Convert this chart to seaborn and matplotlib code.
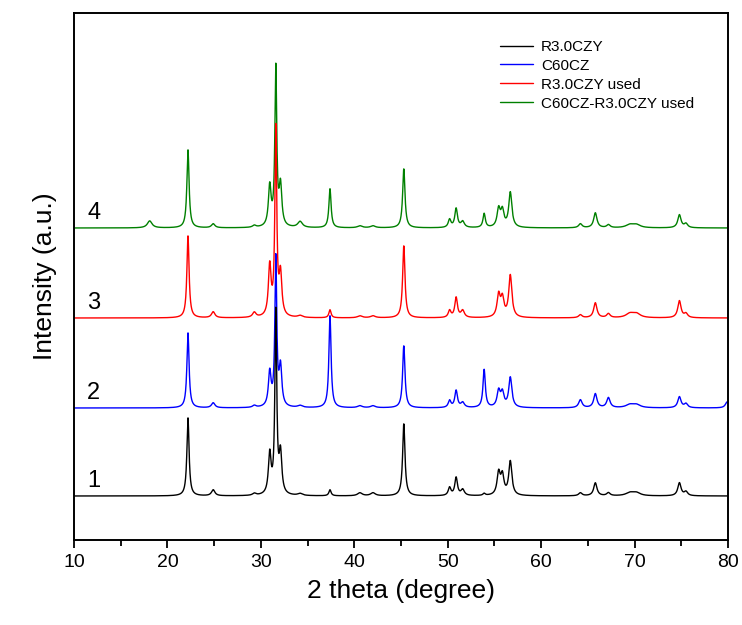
import numpy as np
import pandas as pd
import matplotlib
matplotlib.use("Agg")
import matplotlib.pyplot as plt
import seaborn as sns

# Peak list (2 theta in degrees, half width in degrees)
peak_pos = [18.1, 22.2, 24.9, 29.3, 30.95, 31.6, 32.1, 34.2, 37.4, 40.6, 42.0, 45.3,
            50.2, 50.9, 51.6, 53.9, 55.45, 55.85, 56.7, 64.2, 65.8, 67.2, 69.5, 70.2,
            74.8, 75.5, 79.9]
peak_hw = [0.3, 0.14, 0.22, 0.22, 0.17, 0.12, 0.17, 0.3, 0.14, 0.3, 0.3, 0.15,
           0.17, 0.17, 0.22, 0.15, 0.2, 0.2, 0.2, 0.22, 0.21, 0.22, 0.5, 0.5,
           0.21, 0.22, 0.22]

# Peak heights (a.u.) for each sample, same order as peak_pos
amp_r30czy = [0, 78, 6, 2, 40, 182, 40, 2, 6, 3, 3, 72,
              8, 18, 6, 2, 22, 19, 34, 3, 13, 3, 3, 3, 13, 4, 0]
amp_c60cz = [0, 75, 5, 2, 34, 148, 39, 2, 92, 2, 2, 62,
             7, 17, 5, 38, 16, 14, 30, 8, 14, 10, 3, 3, 11, 4, 6]
amp_r30czy_used = [0, 82, 6, 5, 50, 187, 41, 2, 8, 2, 2, 72,
                   7, 20, 7, 0, 22, 18, 42, 3, 15, 4, 4, 4, 17, 4, 0]
amp_c60cz_r30czy_used = [7, 78, 4, 2, 40, 158, 40, 6, 39, 2, 2, 59,
                         8, 19, 6, 14, 18, 16, 35, 4, 15, 3, 3, 3, 13, 4, 0]

sample_names = ["R3.0CZY", "C60CZ", "R3.0CZY used", "C60CZ-R3.0CZY used"]
sample_amps = [amp_r30czy, amp_c60cz, amp_r30czy_used, amp_c60cz_r30czy_used]
sample_offsets = [44, 132, 222, 312]
sample_tags = ["1", "2", "3", "4"]
sample_colors = ["black", "blue", "red", "green"]

two_theta = np.arange(10, 80.001, 0.02)


def pattern(amps):
    y = np.zeros_like(two_theta)
    for p, w, a in zip(peak_pos, peak_hw, amps):
        y += a / (1 + ((two_theta - p) / w) ** 2)
    return y


frames = []
for name, amps, off in zip(sample_names, sample_amps, sample_offsets):
    frames.append(pd.DataFrame({"two_theta": two_theta,
                                "intensity": pattern(amps) + off,
                                "sample": name}))
df = pd.concat(frames, ignore_index=True)

sns.set_style("ticks")
plt.rcParams["font.family"] = ["Liberation Sans", "DejaVu Sans"]
plt.rcParams["text.color"] = "black"
plt.rcParams["axes.labelcolor"] = "black"
plt.rcParams["xtick.color"] = "black"
plt.rcParams["ytick.color"] = "black"

fig = plt.figure(figsize=(7.42, 6.25), dpi=100)
ax = fig.add_axes([74 / 742, 85 / 625, 654 / 742, 527 / 625])

# draw top trace first so the lower ones sit on top, as in the original
lines = {}
for name, color in reversed(list(zip(sample_names, sample_colors))):
    sns.lineplot(data=df[df["sample"] == name], x="two_theta", y="intensity",
                 color=color, lw=1.0, ax=ax, label=name)
    lines[name] = ax.get_lines()[-1]

for tag, off in zip(sample_tags, sample_offsets):
    ax.text(12.1, off + 15, tag, fontsize=17, ha="center", va="center")

ax.set_xlim(10, 80)
ax.set_ylim(0, 527)
ax.set_xticks(range(10, 81, 10))
ax.set_xticks(range(15, 80, 10), minor=True)
ax.set_yticks([])
ax.tick_params(axis="x", which="major", direction="out", length=6, width=1.3,
               labelsize=14, pad=4)
ax.tick_params(axis="x", which="minor", direction="out", length=4, width=1.3)
for sp in ax.spines.values():
    sp.set_linewidth(1.4)
    sp.set_color("black")

ax.set_xlabel("2 theta (degree)", fontsize=19, labelpad=6)
ax.set_ylabel("Intensity (a.u.)", fontsize=19, labelpad=12)

ax.legend([lines[n] for n in sample_names], sample_names, loc="upper left",
          bbox_to_anchor=(0.63, 0.975), frameon=False, fontsize=11,
          handlelength=2.2, handletextpad=0.5, labelspacing=0.32, borderpad=0.4)

fig.savefig("out.png", dpi=100)
